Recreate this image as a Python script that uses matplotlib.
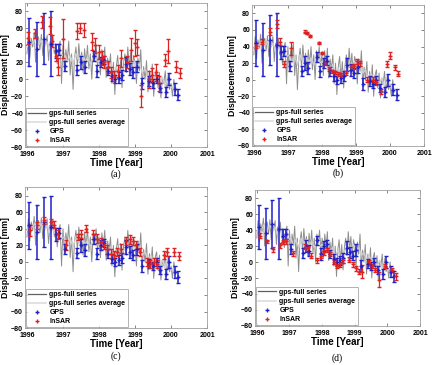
import numpy as np
import matplotlib.pyplot as plt
from matplotlib.lines import Line2D

plt.rcParams['font.family'] = ['Liberation Sans', 'DejaVu Sans']

# gps full series (sampled every 0.04 yr from 1996.0)
gps_full_start = 1996.0
gps_full_step = 0.04
gps_full = [30, 52, 25, 48, 38, 55, 20, 45, 50, 35, 53, 28, 46, 40, 52, 22, 44, 36, 50, 30, 42, 18, 38, 45, -5,
            40, 10, 35, 22, 45, 5, 30, -12, 25, 38, 15, 42, 20, 32, 8, 36, 18, 40, 12, 30, 0, 35, 22, 40, 15,
            30, 5, 35, 18, 38, 2, 25, 12, 30, -5, 20, -18, 15, 28, 0, 22, -10, 18, 30, 8, 38, 15, 32, 5, 28,
            20, -5, 25, 10, 35, -8, 15, 0, 22, -15, 10, -5, 18, -20, 5, 12, -10, 8, -22, 2, -5, 10, -15, 5, -12,
            -5, -20, 0, -15]

# gps full series average (every 0.08 yr)
gps_avg_step = 0.08
gps_avg = [38, 45, 42, 48, 40, 46, 38, 44, 35, 40, 30, 36, 28,
           30, 20, 28, 18, 30, 22, 28, 20, 26, 18, 25, 20, 22,
           18, 22, 12, 18, 8, 14, 5, 12, 15, 20, 18, 22, 15,
           18, 8, 12, 2, 8, -2, 5, -5, 2, -8, -2, -10, -8]

# GPS epochs (same in all panels)
gps_t = [1996.07, 1996.27, 1996.47, 1996.68, 1996.8, 1996.9, 1997.05, 1997.4, 1997.5, 1997.6,
         1997.85, 1997.95, 1998.05, 1998.15, 1998.25, 1998.35, 1998.45, 1998.55, 1998.65, 1998.75,
         1998.85, 1998.95, 1999.05, 1999.2, 1999.4, 1999.5, 1999.6, 1999.7, 1999.85, 1999.95,
         2000.1, 2000.2]
gps_v = [44, 36, 48, 42, 33, 35, 16, 11, 20, 14,
         27, 10, 20, 23, 10, 4, 0, 2, 5, 18,
         12, 8, 15, -5, -2, -5, 0, -10, -15, 0,
         -12, -18]
gps_e = [28, 32, 30, 38, 8, 6, 6, 6, 8, 7,
         6, 7, 6, 5, 5, 6, 5, 6, 6, 8,
         7, 6, 7, 7, 6, 5, 5, 5, 6, 7,
         7, 7]

# InSAR per panel
sar_t_a = [1996.03, 1996.23, 1996.42, 1996.64, 1996.7, 1996.8, 1996.86, 1997.01, 1997.4, 1997.47,
           1997.58, 1997.8, 1997.9, 1998.0, 1998.07, 1998.14, 1998.24, 1998.33, 1998.43, 1998.52,
           1998.6, 1998.77, 1998.9, 1998.99, 1999.05, 1999.17, 1999.38, 1999.47, 1999.57, 1999.66,
           1999.83, 1999.93, 2000.14, 2000.25]
sar_v_a = [49, 54, 67, 63, 45, 28, 15, 48, 57, 60,
           58, 44, 40, 32, 25, 20, 14, 8, 4, 10,
           25, 20, 35, 43, 38, -20, 0, 5, 8, -5,
           23, 33, 15, 7]
sar_e_a = [7, 5, 7, 10, 7, 6, 10, 23, 9, 6,
           8, 10, 9, 8, 8, 7, 7, 6, 6, 7,
           10, 7, 14, 15, 9, 13, 10, 8, 10, 9,
           7, 14, 6, 6]

sar_t_b = [1996.07, 1996.25, 1996.47, 1996.68, 1996.76, 1996.88, 1997.08, 1997.5, 1997.57, 1997.65,
           1997.9, 1998.0, 1998.1, 1998.2, 1998.3, 1998.37, 1998.47, 1998.57, 1998.7, 1998.85,
           1998.95, 1999.03, 1999.13, 1999.33, 1999.5, 1999.6, 1999.75, 1999.9, 2000.0, 2000.15,
           2000.25]
sar_v_b = [41, 46, 58, 67, 46, 19, 38, 58, 56, 53,
           44, 32, 20, 13, 10, 9, 7, 6, 8, 15,
           16, 22, 20, 0, 0, -3, -14, 19, 29, 15,
           7]
sar_e_b = [3, 3, 4, 5, 4, 4, 8, 2, 1, 1,
           1, 1, 2, 2, 2, 2, 2, 2, 2, 3,
           3, 3, 3, 3, 3, 3, 3, 4, 4, 3,
           3]

sar_t_c = [1996.09, 1996.28, 1996.48, 1996.66, 1996.76, 1996.87, 1997.08, 1997.42, 1997.51, 1997.63,
           1997.84, 1997.95, 1998.05, 1998.14, 1998.23, 1998.32, 1998.41, 1998.5, 1998.6, 1998.76,
           1998.86, 1998.95, 1999.04, 1999.13, 1999.34, 1999.43, 1999.52, 1999.61, 1999.8, 1999.89,
           2000.07, 2000.21]
sar_v_c = [38, 44, 50, 48, 45, 33, 20, 30, 34, 40,
           33, 28, 24, 20, 15, 10, 8, 12, 16, 25,
           27, 25, 20, 12, 0, -3, 0, -3, 8, 12,
           12, 7]
sar_e_c = [7, 4, 4, 4, 4, 6, 6, 4, 5, 4,
           5, 5, 5, 5, 5, 5, 5, 5, 5, 5,
           5, 5, 5, 5, 5, 5, 5, 5, 5, 5,
           5, 5]

sar_t_d = [1996.1, 1996.3, 1996.5, 1996.7, 1996.8, 1996.9, 1997.1, 1997.47, 1997.57, 1997.67,
           1997.85, 1997.95, 1998.05, 1998.15, 1998.25, 1998.35, 1998.45, 1998.55, 1998.65, 1998.83,
           1998.93, 1999.03, 1999.13, 1999.23, 1999.43, 1999.53, 1999.63, 1999.73, 1999.93, 2000.13,
           2000.25]
sar_v_d = [33, 26, 16, 21, 25, 26, 11, 19, 17, 8,
           2, 8, 12, 15, 10, 0, -5, -3, 2, 3,
           -3, -8, -12, -12, 0, -5, -10, -22, -5, -10,
           -18]
sar_e_d = [3, 2, 3, 3, 3, 3, 3, 3, 3, 3,
           3, 3, 3, 3, 3, 3, 3, 3, 3, 3,
           3, 3, 3, 8, 3, 3, 3, 9, 3, 3,
           4]

# caption, axes rect, caption y (figure fraction), InSAR data
panels = [
    ('(a)', [0.058, 0.597, 0.419, 0.395], 0.523, sar_t_a, sar_v_a, sar_e_a),
    ('(b)', [0.581, 0.600, 0.396, 0.386], 0.526, sar_t_b, sar_v_b, sar_e_b),
    ('(c)', [0.058, 0.101, 0.419, 0.386], 0.024, sar_t_c, sar_v_c, sar_e_c),
    ('(d)', [0.588, 0.107, 0.380, 0.372], 0.020, sar_t_d, sar_v_d, sar_e_d),
]

gps_full_t = gps_full_start + gps_full_step * np.arange(len(gps_full))
gps_avg_t = gps_full_start + gps_avg_step * np.arange(len(gps_avg))

dark_gray = '#8e8e8e'
light_gray = '#cfcfcf'
blue = '#2020c8'
red = '#dd2222'

fig = plt.figure(figsize=(4.34, 3.65), dpi=100)

for cap, pos, cap_y, st, sv, se in panels:
    ax = fig.add_axes(pos)
    ax.plot(gps_full_t, gps_full, color=dark_gray, lw=0.7)
    ax.plot(gps_avg_t, gps_avg, color=light_gray, lw=1.0)
    ax.errorbar(gps_t, gps_v, yerr=gps_e, fmt='+', color=blue, ms=3, mew=1.0,
                elinewidth=1.1, capsize=1.5, capthick=1.0)
    ax.errorbar(st, sv, yerr=se, fmt='+', color=red, ms=3, mew=1.0,
                elinewidth=0.9, capsize=1.5, capthick=1.0)
    ax.set_xlim(1995.95, 2001)
    ax.set_ylim(-80, 90)
    ax.set_xticks([1996, 1997, 1998, 1999, 2000, 2001])
    ax.set_yticks(np.arange(-80, 81, 20))
    ax.tick_params(direction='in', length=2, width=0.5, labelsize=5,
                   top=True, right=True, colors='#555555', labelcolor='black')
    ax.tick_params(axis='x', pad=3)
    ax.tick_params(axis='y', pad=1.5)
    for lab in ax.get_xticklabels() + ax.get_yticklabels():
        lab.set_fontweight('bold')
    for sp in ax.spines.values():
        sp.set_color('#a0a0a0')
        sp.set_linewidth(0.6)
    ax.set_xlabel('Time [Year]', fontsize=7, fontweight='bold', labelpad=0)
    ax.set_ylabel('Displacement [mm]', fontsize=6.3, fontweight='bold', labelpad=1)
    handles = [Line2D([], [], color='#606060', lw=0.9),
               Line2D([], [], color='#dddddd', lw=1.2),
               Line2D([], [], color=blue, marker='+', ls='none', ms=3.5, mew=1.0),
               Line2D([], [], color=red, marker='+', ls='none', ms=3.5, mew=1.0)]
    leg = ax.legend(handles, ['gps-full series', 'gps-full series average', 'GPS', 'InSAR'],
                    loc='lower left', fontsize=5, frameon=True, fancybox=False,
                    borderaxespad=0.1, handlelength=2.6, labelspacing=0.3,
                    borderpad=0.3, handletextpad=0.5)
    leg.get_frame().set_edgecolor('#909090')
    leg.get_frame().set_linewidth(0.6)
    for t in leg.get_texts():
        t.set_fontweight('bold')
    fig.text(pos[0] + pos[2] / 2, cap_y, cap, ha='center', va='center',
             fontsize=7, family='Liberation Serif')

fig.savefig('out.png', dpi=100)
